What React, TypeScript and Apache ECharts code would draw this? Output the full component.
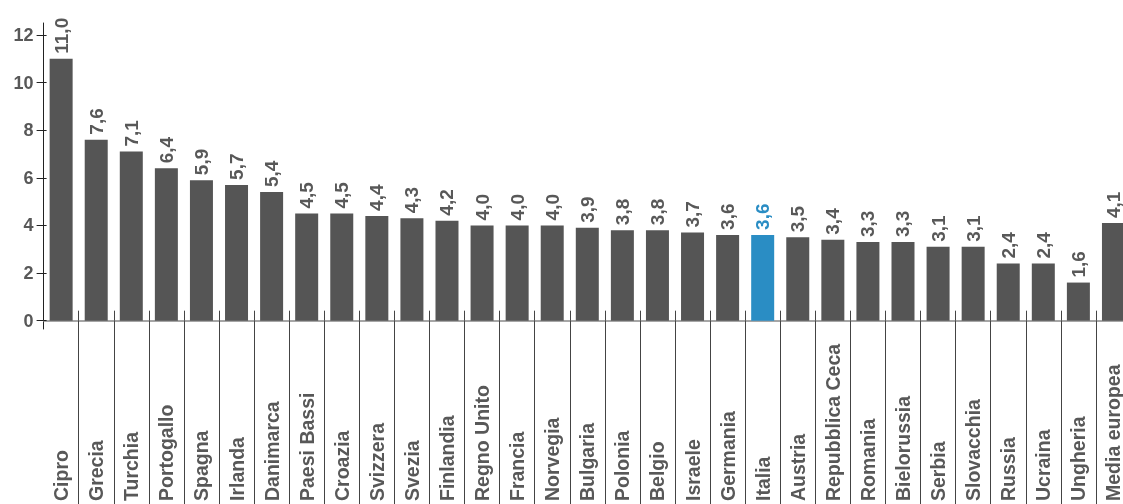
import React, { useEffect, useRef } from "react";
import * as echarts from "echarts";

const categories: string[] = [
  "Cipro", "Grecia", "Turchia", "Portogallo", "Spagna", "Irlanda", "Danimarca",
  "Paesi Bassi", "Croazia", "Svizzera", "Svezia", "Finlandia", "Regno Unito",
  "Francia", "Norvegia", "Bulgaria", "Polonia", "Belgio", "Israele", "Germania",
  "Italia", "Austria", "Repubblica Ceca", "Romania", "Bielorussia", "Serbia",
  "Slovacchia", "Russia", "Ucraina", "Ungheria", "Media europea",
];

const values: number[] = [
  11.0, 7.6, 7.1, 6.4, 5.9, 5.7, 5.4, 4.5, 4.5, 4.4, 4.3, 4.2, 4.0, 4.0, 4.0,
  3.9, 3.8, 3.8, 3.7, 3.6, 3.6, 3.5, 3.4, 3.3, 3.3, 3.1, 3.1, 2.4, 2.4, 1.6, 4.1,
];

const yTicks: number[] = [0, 2, 4, 6, 8, 10, 12];

const highlight = "Italia";

const GRAY = "#555555";
const BLUE = "#2a8dc4";
const TEXT = "#585858";
const FONT = "'Liberation Sans', Arial, Helvetica, sans-serif";

export default function App() {
  const ref = useRef<HTMLDivElement>(null);

  useEffect(() => {
    if (!ref.current) return;
    const chart = echarts.init(ref.current, undefined, { renderer: "svg" });
    const fmt = (v: number) => v.toFixed(1).replace(".", ",");
    const skipFirst = (i: number) => i !== 0;

    chart.setOption({
      animation: false,
      textStyle: { fontFamily: FONT },
      grid: {
        left: 43.6,
        right: -8,
        top: 23,
        bottom: 175,
        containLabel: false,
        outerBoundsMode: "none",
      },
      xAxis: [
        {
          type: "category",
          data: categories,
          position: "bottom",
          axisLine: { show: true, onZero: true, lineStyle: { color: "#888888", width: 1.5 } },
          axisTick: {
            show: true,
            interval: skipFirst,
            length: 184,
            lineStyle: { color: "#444444", width: 1 },
          },
          axisLabel: {
            show: true,
            interval: 0,
            rotate: 90,
            margin: 172,
            align: "left",
            verticalAlign: "middle",
            color: TEXT,
            fontSize: 19.5,
            fontWeight: "bold",
            fontFamily: FONT,
          },
          splitLine: { show: false },
        },
        {
          type: "category",
          data: categories,
          position: "bottom",
          axisLine: { show: false, onZero: true },
          axisTick: {
            show: true,
            inside: true,
            interval: skipFirst,
            length: 10,
            lineStyle: { color: "#444444", width: 1 },
          },
          axisLabel: { show: false },
          splitLine: { show: false },
        },
      ],
      yAxis: [
        {
          type: "value",
          min: -0.35,
          max: 12.5,
          position: "left",
          axisLine: { show: true, lineStyle: { color: "#222222", width: 1 } },
          axisTick: {
            show: true,
            customValues: yTicks,
            length: 7,
            lineStyle: { color: "#222222", width: 1 },
          },
          axisLabel: {
            show: true,
            customValues: yTicks,
            margin: 10,
            color: TEXT,
            fontSize: 18,
            fontWeight: "bold",
            fontFamily: FONT,
          },
          splitLine: { show: false },
        },
        {
          type: "value",
          min: -0.35,
          max: 12.5,
          position: "left",
          axisLine: { show: false },
          axisTick: {
            show: true,
            inside: true,
            customValues: yTicks,
            length: 3,
            lineStyle: { color: "#222222", width: 1 },
          },
          axisLabel: { show: false },
          splitLine: { show: false },
        },
      ],
      series: [
        {
          type: "bar",
          xAxisIndex: 0,
          yAxisIndex: 0,
          barWidth: 23,
          data: values.map((v, i) => {
            const hi = categories[i] === highlight;
            return {
              value: v,
              itemStyle: { color: hi ? BLUE : GRAY },
              label: { color: hi ? BLUE : TEXT },
            };
          }),
          label: {
            show: true,
            position: "top",
            rotate: 90,
            align: "left",
            verticalAlign: "middle",
            distance: 5,
            fontSize: 19,
            fontWeight: "bold",
            fontFamily: FONT,
            formatter: (p: any) => fmt(p.value),
          },
        },
      ],
    });

    return () => chart.dispose();
  }, []);

  return (
    <div
      ref={ref}
      style={{ position: "fixed", left: 0, top: 0, width: 1123, height: 504 }}
    />
  );
}
